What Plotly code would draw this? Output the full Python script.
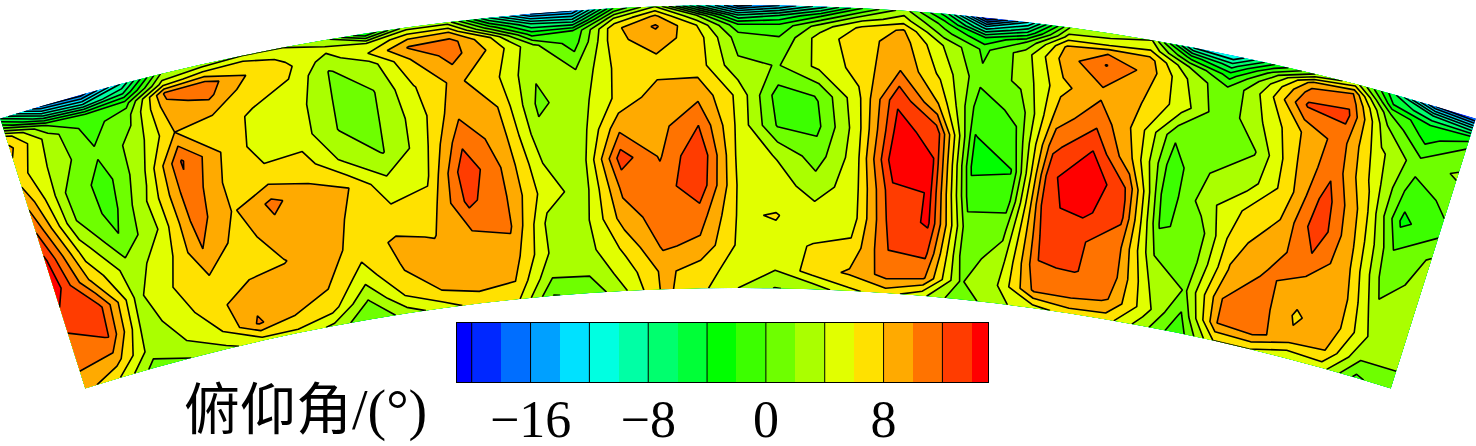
# -*- coding: utf-8 -*-
import numpy as np
import plotly.graph_objects as go

# sector geometry (pixels of the picture)
center_x = 738
center_y = 2459
outer_radius = 2454
half_angle = 17.5

# depth below the outer arc for each row of values
depth = [0, 10, 20, 32, 60, 90, 120, 150, 180, 210, 240, 265, 283]

# pitch angle per column, left to right, one value per depth
col_00 = [-6, 0, 7, 8.5, 7, 9.5, 12, 14.5, 15.5, 13, 11, 10, 9]
col_01 = [-16, -8, 0, 3, 3, 2, 2.2, 5, 7.5, 12.6, 12.1, 9, 6]
col_02 = [-17, -10, -2, -1, 0.3, -1, -0.8, 0.2, 3, 3.5, 3, 3, 1]
col_03 = [-10, -6, -1, 1.5, 2.8, 3.5, 4.5, 4, 5, 6, 5, 4, 2]
col_04 = [2, 5, 10.5, 9.5, 8, 12.2, 11.5, 11, 10, 7.8, 7.5, 6, 3.5]
col_05 = [3, 7, 11, 10.5, 7, 8, 7.5, 7.8, 7, 7.3, 9.3, 10.3, 5]
col_06 = [4, 7.5, 8, 7, 5.7, 5, 6.5, 10.5, 9.3, 7.9, 9.3, 8, 5.5]
col_07 = [4, 5.5, 6.5, 6, 5, 5, 6.9, 8.7, 9.5, 9.3, 8.3, 7, 3.5]
col_08 = [3, 4.5, 3, 1.9, 1.9, 1.9, 3.5, 8, 7.5, 7, 5, 1.8, 0]
col_09 = [-4, 4, 6, 3, 1.9, 1.9, 1.9, 4.5, 6.5, 8.3, 7.9, 6, 3]
col_10 = [3, 7.5, 10.2, 8, 5.9, 5, 5, 5.5, 7, 7.9, 9, 8, 5]
col_11 = [3, 8, 11, 10.9, 8.5, 9.5, 11.5, 13.5, 12.6, 10, 9.5, 8.5, 7]
col_12 = [-8, -1, 6, 7.5, 6.5, 8, 9, 9.7, 10, 10.3, 9, 8, 6.5]
col_13 = [-16, -8, -3, 2.5, 2.2, 1.6, 2.5, 4, 5, 3.5, 3.8, 2, -0.1]
col_14 = [-16, -9, -2, -1, 2.1, 3, 2.8, 2.9, 3, 3.5, 3.3, 2.1, 0.5]
col_15 = [-2, 4, 7.5, 7.5, 6.5, 6.5, 9.5, 13, 10.5, 9, 6.5, 5, 4]
col_16 = [4, 8.5, 10.3, 9, 7.2, 9, 9.3, 9.8, 11, 11, 10.3, 8.5, 8.5]
col_17 = [-8, 2, 6, 7, 7, 9.5, 12, 13.9, 13.5, 11, 9.5, 7, 6.5]
col_18 = [-17, -8, -1.5, 1, 2.5, 5.5, 5.5, 5.5, 5.8, 5.8, 5.7, 5, 4]
col_19 = [-14, -6, -1.5, 0.1, 1.9, -1, -0.2, 3.8, 5, 6.1, 5.5, 4, 1.9]
col_20 = [-9, -2, 3, 5, 4.5, 0.1, -0.5, 1, 3, 5, 6.1, 7, 2.5]
col_21 = [-2, 3, 6.5, 7.2, 6.8, 5.5, 5, 5, 5, 5, 6.5, 8.3, 5.5]
col_22 = [3, 5, 8.3, 9, 10, 13.8, 14.5, 15.5, 13.5, 12.8, 12, 10.8, 7]
col_23 = [-5, -1, 1, 4, 5.5, 8, 13.5, 14.1, 14.1, 14.3, 12.5, 10.3, 4.5]
col_24 = [-20, -11, -4, -0.5, 0.5, -1, -2.1, -2.4, -1, 1, 1, 1.8, 0.5]
col_25 = [-12, -6, 0, 3, 2.5, 0.5, -0.5, -2.1, -1, 1.5, 3, 4, 3.5]
col_26 = [2, 5, 8.5, 9, 7.5, 9, 11.5, 13.5, 13.7, 12.5, 11.9, 10.5, 5]
col_27 = [3, 5, 9.8, 12.1, 9.5, 11.5, 14.1, 16, 14.5, 12.2, 12.1, 10.5, 7]
col_28 = [4, 6, 9, 9.3, 8.1, 7.3, 8, 11.8, 12.3, 11, 11, 9.9, 7]
col_29 = [-10, -3, 2, 4, 5, 0.3, -1, -1.5, -0.3, 1.9, 4, 5, 3]
col_30 = [-12, -7, -3, 0, 0.5, 1, 2, 3, 0.8, 1, 1.8, -0.3, -1.5]
col_31 = [-4, 1, 4, 5, 3.9, 1.9, 3, 6, 7.5, 8.1, 10, 10, 6]
col_32 = [2, 9, 11, 12.3, 8, 7.7, 7, 8, 9, 10.4, 11, 10.9, 6]
col_33 = [5, 10, 11.5, 12.5, 11, 11.5, 13, 13.5, 11.7, 9, 7.7, 8.5, 4]
col_34 = [-6, -4, 0, 2, 4.5, 5.5, 7, 7.8, 8.5, 9.5, 9.3, 8, 5]
col_35 = [-16, -8, -4, -3, 0.8, -1, -2.5, 0, 0.8, 2.5, 4, 2, -0.5]
col_36 = [-18, -10, -3, 0, 2.3, 0.5, -0.5, 2.3, 3, 3, 3.3, 2, 1.7]

columns = [col_00, col_01, col_02, col_03, col_04, col_05, col_06, col_07, col_08,
           col_09, col_10, col_11, col_12, col_13, col_14, col_15, col_16, col_17,
           col_18, col_19, col_20, col_21, col_22, col_23, col_24, col_25, col_26,
           col_27, col_28, col_29, col_30, col_31, col_32, col_33, col_34, col_35,
           col_36]

# one colour per 2 degree band, from below -20 up to above 14
band_colors = ['#0000ff', '#0028ff', '#006eff', '#00a0ff', '#00e1ff', '#00ffe1',
               '#00ffa5', '#00ff6e', '#00ff37', '#00ff00', '#3cff00', '#6eff00',
               '#aaff00', '#e1ff00', '#ffe100', '#ffaa00', '#ff7300', '#ff3c00',
               '#ff0000']
band_edges = [-21, -20, -18, -16, -14, -12, -10, -8, -6, -4, -2, 0, 2, 4, 6, 8,
              10, 12, 14, 15.1]
divider_values = [-20, -16, -12, -8, -4, 0, 4, 8, 12]
tick_values = [-16, -8, 0, 8]
tick_labels = ['\u221216', '\u22128', '0', '8']

z = np.array(columns).T
angles = np.linspace(-half_angle, half_angle, z.shape[1])
aa, dd = np.meshgrid(np.radians(angles), depth)
sector_x = center_x + (outer_radius - dd) * np.sin(aa)
sector_y = center_y - (outer_radius - dd) * np.cos(aa)

scale = [[i / (len(band_colors) - 1), c] for i, c in enumerate(band_colors)]
hidden = dict(showgrid=False, showticklabels='none', showline=False, startline=False,
              endline=False, minorgridcount=0, smoothing=0)

carpet = go.Carpet(a=angles, b=depth, x=sector_x, y=sector_y, carpet='sector',
                   aaxis=hidden, baxis=hidden, xaxis='x', yaxis='y')
contour = go.Contourcarpet(a=angles, b=depth, z=z, carpet='sector', autocontour=False,
                           contours=dict(start=-20, end=14, size=2, coloring='fill',
                                         showlines=True),
                           line=dict(color='black', width=1.6, smoothing=0),
                           colorscale=scale, showscale=False)

# colour strip with its own axis
mids = [(a + b) / 2 for a, b in zip(band_edges[:-1], band_edges[1:])]
strip_scale = []
for i, c in enumerate(band_colors):
    strip_scale.append([i / len(band_colors), c])
    strip_scale.append([(i + 1) / len(band_colors), c])
strip = go.Heatmap(x=band_edges, y=[0, 1], z=[list(range(len(mids)))], xaxis='x2', yaxis='y2',
                   colorscale=strip_scale, zmin=-0.5, zmax=len(mids) - 0.5, showscale=False,
                   hoverinfo='skip')
div_x, div_y = [], []
for v in divider_values:
    div_x += [v, v, None]
    div_y += [0, 1, None]
dividers = go.Scatter(x=div_x, y=div_y, mode='lines', xaxis='x2', yaxis='y2',
                      line=dict(color='black', width=1), hoverinfo='skip')

fig = go.Figure(data=[carpet, contour, strip, dividers])
fig.update_layout(
    width=1476, height=446, margin=dict(l=0, r=0, t=0, b=0, autoexpand=False),
    paper_bgcolor='white', plot_bgcolor='white', showlegend=False,
    xaxis=dict(range=[0, 1476], visible=False, domain=[0, 1]),
    yaxis=dict(range=[446, 0], visible=False, domain=[0, 1]),
    xaxis2=dict(domain=[457 / 1476, 988 / 1476], range=[band_edges[0], band_edges[-1]],
                anchor='y2', showline=True, mirror=True, linecolor='black', linewidth=1,
                tickvals=tick_values, ticktext=tick_labels, ticks='', showgrid=False,
                zeroline=False, ticklabelstandoff=-8, automargin=False,
                tickfont=dict(family='Liberation Serif', size=52, color='black')),
    yaxis2=dict(domain=[1 - 382 / 446, 1 - 323 / 446], range=[0, 1], anchor='x2', showline=True,
                mirror=True, linecolor='black', linewidth=1, showticklabels=False,
                ticks='', showgrid=False, zeroline=False),
    annotations=[dict(text='俯仰角/(°)', xref='paper', yref='paper', x=305 / 1476,
                      y=1 - 410 / 446, xanchor='center', yanchor='middle', showarrow=False,
                      font=dict(family='Liberation Serif, Noto Sans CJK SC', size=56,
                                color='black'))],
)

# the page keeps its default 8px body margin otherwise
fig.write_html("out.html", config={'displayModeBar': False},
               post_script="document.body.style.margin='0';")
